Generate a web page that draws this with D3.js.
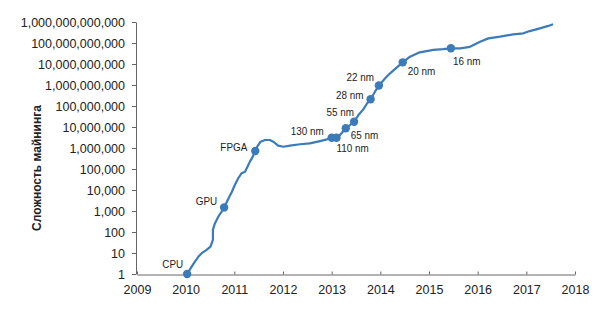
<!DOCTYPE html>
<html>
<head>
<meta charset="utf-8">
<script src="https://cdn.jsdelivr.net/npm/d3@7"></script>
<style>
  html, body { margin: 0; padding: 0; background: #fff; }
  svg { display: block; }
  .tick text, .lbl { font-family: "Liberation Sans", Arial, sans-serif; fill: #222; }
</style>
</head>
<body>
<svg id="chart" width="600" height="335"></svg>
<script>
// ---- data ----
const dates = [2010.03, 2010.12, 2010.19, 2010.26, 2010.33, 2010.43, 2010.51, 2010.56, 2010.56, 2010.60,
  2010.67, 2010.74, 2010.79, 2010.88, 2010.95, 2011.01, 2011.08, 2011.15, 2011.22, 2011.27,
  2011.32, 2011.38, 2011.43, 2011.47, 2011.54, 2011.63, 2011.73, 2011.80, 2011.90, 2012.01,
  2012.14, 2012.35, 2012.55, 2012.76, 2012.90, 2013.00, 2013.10, 2013.17, 2013.29, 2013.46,
  2013.55, 2013.65, 2013.73, 2013.80, 2013.89, 2013.97, 2014.10, 2014.20, 2014.34, 2014.46,
  2014.61, 2014.81, 2015.09, 2015.29, 2015.45, 2015.64, 2015.84, 2016.05, 2016.22, 2016.46,
  2016.73, 2016.94, 2017.07, 2017.28, 2017.45, 2017.55];
const difficulty = [1, 2.2, 3.9, 6.6, 9.8, 14, 20, 42, 126, 257,
  537, 933, 1480, 3980, 8300, 17400, 36300, 63100, 74100, 129000,
  224000, 389000, 724000, 1.15e6, 2.0e6, 2.4e6, 2.4e6, 2.0e6, 1.29e6, 1.15e6,
  1.29e6, 1.51e6, 1.66e6, 2.14e6, 2.57e6, 3.09e6, 3.09e6, 4.17e6, 8.7e6, 1.78e7,
  3.7e7, 6.9e7, 1.35e8, 2.09e8, 4.8e8, 9.5e8, 2.09e9, 3.6e9, 6.9e9, 1.2e10,
  2.24e10, 3.6e10, 4.7e10, 5.1e10, 5.6e10, 5.6e10, 6.6e10, 1.15e11, 1.66e11, 2.0e11,
  2.57e11, 2.9e11, 3.7e11, 5.0e11, 6.5e11, 7.8e11];

const markerNames = ["CPU", "GPU", "FPGA", "130 nm", "110 nm", "65 nm", "55 nm", "28 nm", "22 nm", "20 nm", "16 nm"];
const markerDates = [2010.03, 2010.79, 2011.43, 2013.00, 2013.10, 2013.29, 2013.46, 2013.80, 2013.97, 2014.46, 2015.45];
const markerValues = [1, 1480, 7.24e5, 3.09e6, 3.09e6, 8.7e6, 1.78e7, 2.09e8, 9.5e8, 1.2e10, 5.6e10];

const yTickValues = [1, 10, 100, 1e3, 1e4, 1e5, 1e6, 1e7, 1e8, 1e9, 1e10, 1e11, 1e12];
const yTickLabels = ["1", "10", "100", "1,000", "10,000", "100,000", "1,000,000", "10,000,000",
  "100,000,000", "1,000,000,000", "10,000,000,000", "100,000,000,000", "1,000,000,000,000"];
const xTickValues = [2009, 2010, 2011, 2012, 2013, 2014, 2015, 2016, 2017, 2018];
const xTickLabels = ["2009", "2010", "2011", "2012", "2013", "2014", "2015", "2016", "2017", "2018"];
const yTitle = "Сложность майнинга";

// ---- label placement (style) ----
const labelPos = {
  "CPU":    {dx: -4,  dy: -6,  anchor: "end"},
  "GPU":    {dx: -7,  dy: -2,  anchor: "end"},
  "FPGA":   {dx: -8,  dy: 0,   anchor: "end"},
  "130 nm": {dx: -8,  dy: -3,  anchor: "end"},
  "110 nm": {dx: 0,   dy: 14,  anchor: "start"},
  "65 nm":  {dx: 5,   dy: 11,  anchor: "start"},
  "55 nm":  {dx: 0,   dy: -6,  anchor: "end"},
  "28 nm":  {dx: -7,  dy: 0,   anchor: "end"},
  "22 nm":  {dx: -5,  dy: -4,  anchor: "end"},
  "20 nm":  {dx: 5,   dy: 13,  anchor: "start"},
  "16 nm":  {dx: 2,   dy: 17,  anchor: "start"}
};

// ---- chart ----
const svg = d3.select("#chart");
const x = d3.scaleLinear().domain([2009, 2018]).range([137, 575]);
const y = d3.scaleLog().domain([1, 1e12]).range([274, 22]);
const color = "#3b7bb9";
const axisColor = "#666";

// y axis
const gy = svg.append("g")
  .attr("transform", "translate(136,0)")
  .call(d3.axisLeft(y).tickValues(yTickValues)
    .tickFormat((d, i) => yTickLabels[i]).tickSize(4).tickSizeOuter(0).tickPadding(7));
gy.selectAll("text").style("font-size", "12.5px");

// x axis
const gx = svg.append("g")
  .attr("transform", "translate(0,274.5)")
  .call(d3.axisBottom(x).tickValues(xTickValues)
    .tickFormat((d, i) => xTickLabels[i]).tickSize(-3).tickSizeOuter(0).tickPadding(11));
gx.selectAll("text").style("font-size", "12.5px");

svg.selectAll(".domain, .tick line").attr("stroke", axisColor).attr("stroke-width", 1);

// y title
svg.append("text")
  .attr("transform", "translate(41,168) rotate(-90)")
  .attr("text-anchor", "middle")
  .style("font-family", "'Liberation Sans', Arial, sans-serif")
  .style("font-weight", "bold")
  .style("font-size", "12px")
  .attr("fill", "#222")
  .text(yTitle);

// line
const pts = dates.map((d, i) => [d, difficulty[i]]);
svg.append("path")
  .datum(pts)
  .attr("fill", "none")
  .attr("stroke", color)
  .attr("stroke-width", 2.2)
  .attr("stroke-linejoin", "round")
  .attr("d", d3.line().x(d => x(d[0])).y(d => y(d[1])));

// markers
const mk = markerNames.map((n, i) => ({name: n, date: markerDates[i], value: markerValues[i]}));
svg.append("g").selectAll("circle").data(mk).join("circle")
  .attr("cx", d => x(d.date)).attr("cy", d => y(d.value))
  .attr("r", 4.2).attr("fill", color);

svg.append("g").selectAll("text").data(mk).join("text")
  .attr("class", "lbl")
  .attr("transform", d => `translate(${x(d.date) + labelPos[d.name].dx},${y(d.value) + labelPos[d.name].dy}) scale(0.86,1)`)
  .attr("text-anchor", d => labelPos[d.name].anchor)
  .style("font-size", "11.5px")
  .text(d => d.name);
</script>
</body>
</html>
